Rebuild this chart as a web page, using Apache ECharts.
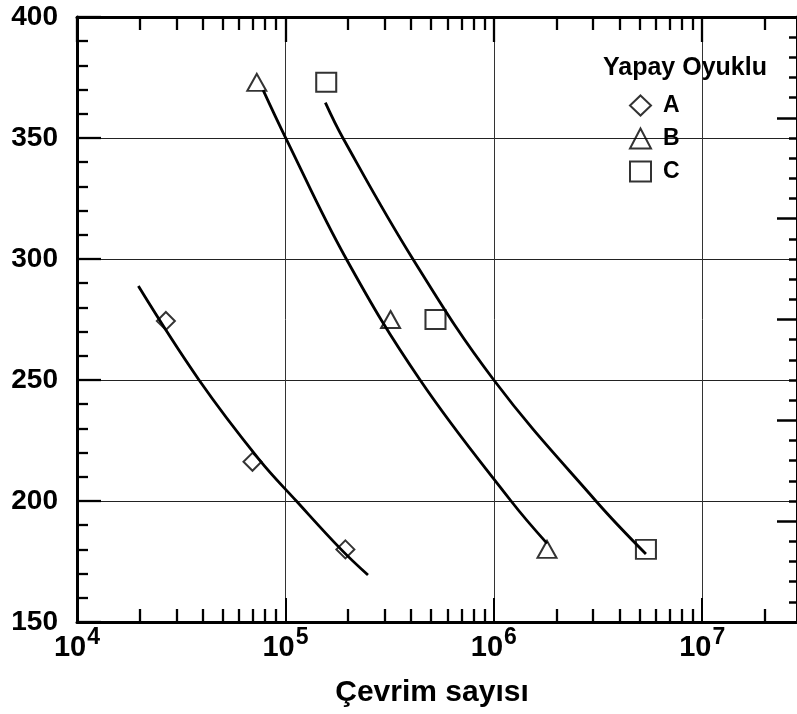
<!DOCTYPE html>
<html>
<head>
<meta charset="utf-8">
<script src="https://cdn.jsdelivr.net/npm/echarts@6/dist/echarts.min.js"></script>
<style>
  html, body { margin: 0; padding: 0; background: #fff; }
  #chart { width: 797px; height: 714px; }
</style>
</head>
<body>
<div id="chart"></div>
<script>
// Measured fatigue points (cycles, stress)
const seriesNames = ['A', 'B', 'C'];
const pointsA = [[26700, 274.4], [69500, 216.2], [194000, 180]];
const pointsB = [[72900, 373], [319600, 275], [1800000, 180]];
const pointsC = [[157000, 373], [525000, 275], [5370000, 180]];

// Fitted S-N curves
const curveA = [[19700, 288.8], [38500, 250], [74700, 217.2], [112900, 200], [185000, 180], [249000, 169.4]];
const curveB = [[78200, 369.8], [100000, 350.3], [196000, 300], [443000, 250], [1210000, 200], [1800000, 182.5]];
const curveC = [[155500, 364.6], [188800, 350], [408800, 300], [1000000, 250], [3090000, 200], [5370000, 178.1]];

// Axis ticks
const decadeTicks = [1e4, 1e5, 1e6, 1e7];
const minorXTicks = [];
[1e4, 1e5, 1e6, 1e7].forEach(function (d) {
  for (let k = 2; k <= 9; k++) {
    if (d * k < 2.85e7) minorXTicks.push(d * k);
  }
});

const FONT = 'Liberation Sans, Arial, sans-serif';
const X_MIN = 1e4, X_MAX = 2.85e7;

function logAxis(extra) {
  return Object.assign({
    type: 'log',
    logBase: 10,
    min: X_MIN,
    max: X_MAX,
    gridIndex: 0,
    axisLine: { show: false },
    axisLabel: { show: false },
    splitLine: { show: false },
    minorTick: { show: false },
    minorSplitLine: { show: false }
  }, extra);
}

const symbolStyle = { color: 'rgba(0,0,0,0)', borderColor: '#000', borderWidth: 2 };
const curveStyle = { color: '#000', width: 2.8 };

const chart = echarts.init(document.getElementById('chart'), null, { renderer: 'canvas' });

chart.setOption({
  animation: false,
  backgroundColor: '#fff',
  grid: { left: 77, right: -1, top: 17, bottom: 92, containLabel: false },
  title: {
    text: 'Yapay Oyuklu',
    left: 598,
    top: 51,
    textStyle: { fontFamily: FONT, fontWeight: 'bold', fontSize: 25, color: '#000' }
  },
  legend: {
    data: seriesNames,
    orient: 'vertical',
    left: 624,
    top: 89,
    itemWidth: 21,
    itemHeight: 20,
    itemGap: 10,
    textStyle: { fontFamily: FONT, fontWeight: 'bold', fontSize: 23, color: '#000', padding: [0, 0, 0, 7] }
  },
  xAxis: [
    logAxis({
      position: 'bottom',
      name: 'Çevrim sayısı',
      nameLocation: 'middle',
      nameGap: 56,
      nameTextStyle: { fontFamily: FONT, fontWeight: 'bold', fontSize: 30, color: '#000', padding: [0, 10, 0, 0] },
      axisLine: { show: true, lineStyle: { color: '#000', width: 3 } },
      axisTick: { show: true, inside: true, length: 24, customValues: decadeTicks, lineStyle: { color: '#000', width: 2 } },
      axisLabel: {
        show: true,
        customValues: decadeTicks,
        margin: 4,
        formatter: function (v) {
          return '{b|10}{s|' + Math.round(Math.log10(v)) + '}';
        },
        rich: {
          b: { fontFamily: FONT, fontWeight: 'bold', fontSize: 29, color: '#000', verticalAlign: 'bottom' },
          s: { fontFamily: FONT, fontWeight: 'bold', fontSize: 23, color: '#000', verticalAlign: 'top', padding: [0, 0, 13, 1] }
        }
      },
      splitLine: { show: true, lineStyle: { color: '#333', width: 1 } }
    }),
    logAxis({
      position: 'bottom',
      axisTick: { show: true, inside: true, length: 13, customValues: minorXTicks, lineStyle: { color: '#000', width: 2.3 } }
    }),
    logAxis({
      position: 'top',
      axisLine: { show: true, lineStyle: { color: '#000', width: 3 } },
      axisTick: { show: true, inside: true, length: 25, customValues: decadeTicks, lineStyle: { color: '#000', width: 2.3 } }
    }),
    logAxis({
      position: 'top',
      axisTick: { show: true, inside: true, length: 13, customValues: minorXTicks, lineStyle: { color: '#000', width: 2.3 } }
    })
  ],
  yAxis: [
    {
      type: 'value',
      position: 'left',
      min: 150,
      max: 400,
      interval: 50,
      axisLine: { show: true, lineStyle: { color: '#000', width: 3 } },
      axisTick: { show: true, inside: true, length: 24, lineStyle: { color: '#000', width: 2.3 } },
      minorTick: { show: true, splitNumber: 5, length: 11, lineStyle: { color: '#000', width: 2.3 } },
      axisLabel: {
        show: true,
        margin: 19,
        showMinLabel: true,
        showMaxLabel: true,
        fontFamily: FONT,
        fontWeight: 'bold',
        fontSize: 28,
        color: '#000'
      },
      splitLine: { show: true, lineStyle: { color: '#222', width: 1 } }
    },
    {
      type: 'value',
      position: 'right',
      min: 0,
      max: 6,
      interval: 1,
      axisLine: { show: true, lineStyle: { color: '#000', width: 3 } },
      axisTick: { show: true, inside: true, length: 20, lineStyle: { color: '#000', width: 2.5 } },
      minorTick: { show: true, splitNumber: 5, length: 8, lineStyle: { color: '#000', width: 2.5 } },
      axisLabel: { show: false },
      splitLine: { show: false }
    }
  ],
  series: [
    { name: 'A eğrisi', type: 'line', xAxisIndex: 0, yAxisIndex: 0, data: curveA, smooth: 0.4, showSymbol: false, symbol: 'none', lineStyle: curveStyle, z: 3 },
    { name: 'B eğrisi', type: 'line', xAxisIndex: 0, yAxisIndex: 0, data: curveB, smooth: 0.4, showSymbol: false, symbol: 'none', lineStyle: curveStyle, z: 3 },
    { name: 'C eğrisi', type: 'line', xAxisIndex: 0, yAxisIndex: 0, data: curveC, smooth: 0.4, showSymbol: false, symbol: 'none', lineStyle: curveStyle, z: 3 },
    { name: 'A', type: 'scatter', xAxisIndex: 0, yAxisIndex: 0, data: pointsA, symbol: 'diamond', symbolSize: 18, itemStyle: symbolStyle, z: 4 },
    { name: 'B', type: 'scatter', xAxisIndex: 0, yAxisIndex: 0, data: pointsB, symbol: 'triangle', symbolSize: [19, 17], itemStyle: symbolStyle, z: 4 },
    { name: 'C', type: 'scatter', xAxisIndex: 0, yAxisIndex: 0, data: pointsC, symbol: 'rect', symbolSize: [20, 19], itemStyle: symbolStyle, z: 4 }
  ]
});
</script>
</body>
</html>
